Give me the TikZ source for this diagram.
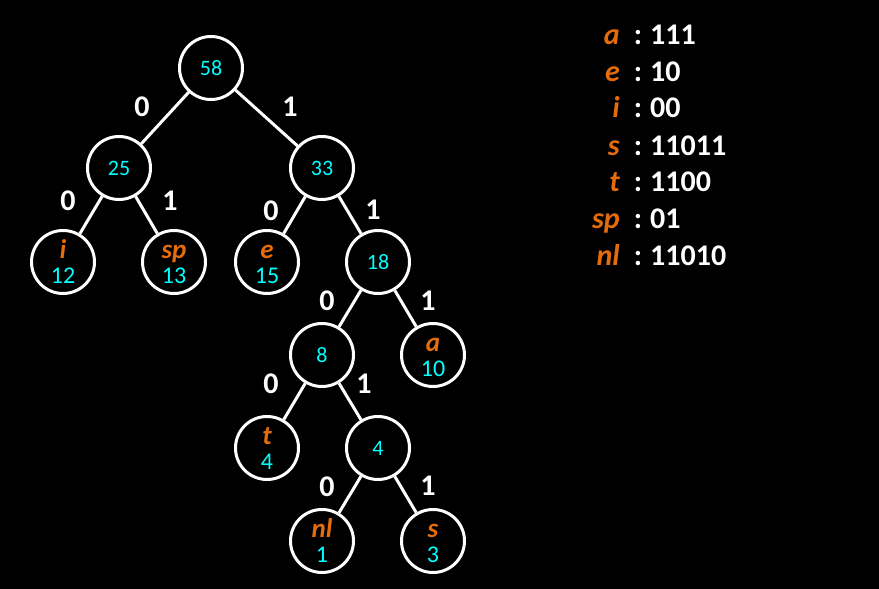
\documentclass[tikz,border=0pt]{standalone}
\usepackage{fontspec}
\setmainfont{Carlito}
\usetikzlibrary{calc}
\definecolor{huforange}{HTML}{E46C0A}
\definecolor{hufcyan}{HTML}{00FFFF}
\tikzset{
  nd/.style={circle,draw=white,line width=3pt,minimum size=63pt,inner sep=0pt,fill=black},
  num/.style={text=hufcyan,font=\fontsize{22}{22}\selectfont,inner sep=0pt},
  lnum/.style={text=hufcyan,font=\fontsize{24}{24}\selectfont,inner sep=0pt,anchor=base},
  lett/.style={text=huforange,font=\fontsize{27}{27}\selectfont\bfseries\itshape,inner sep=0pt,anchor=base,text depth=0pt},
  elab/.style={text=white,font=\fontsize{30}{30}\selectfont\bfseries,inner sep=0pt},
  edge/.style={draw=white,line width=3pt},
  code/.style={text=white,font=\fontsize{30}{30}\selectfont\bfseries,inner sep=0pt,anchor=base west},
  clet/.style={text=huforange,font=\fontsize{30}{30}\selectfont\bfseries\itshape,inner sep=0pt,anchor=base east},
  ccol/.style={text=white,font=\fontsize{30}{30}\selectfont\bfseries,inner sep=0pt,anchor=base},
}
\begin{document}
\begin{tikzpicture}[x=1pt,y=-1pt]
\fill[black] (0,0) rectangle (879,589);
\useasboundingbox (0,0) rectangle (879,589);
% nodes
\node[nd] (n58) at (211,68) {};
\node[nd] (n25) at (119,168) {};
\node[nd] (n33) at (322,168) {};
\node[nd] (ni) at (63,262) {};
\node[nd] (nsp) at (174,262) {};
\node[nd] (ne) at (267,262) {};
\node[nd] (n18) at (378,262) {};
\node[nd] (n8) at (322,355) {};
\node[nd] (na) at (433,355) {};
\node[nd] (nt) at (267,448) {};
\node[nd] (n4) at (378,448) {};
\node[nd] (nnl) at (322,541) {};
\node[nd] (ns) at (433,541) {};
% edges
\draw[edge] (n58) -- (n25);
\draw[edge] (n58) -- (n33);
\draw[edge] (n25) -- (ni);
\draw[edge] (n25) -- (nsp);
\draw[edge] (n33) -- (ne);
\draw[edge] (n33) -- (n18);
\draw[edge] (n18) -- (n8);
\draw[edge] (n18) -- (na);
\draw[edge] (n8) -- (nt);
\draw[edge] (n8) -- (n4);
\draw[edge] (n4) -- (nnl);
\draw[edge] (n4) -- (ns);
% internal values
\node[num] (v58) at (n58) {58};
\node[num] (v25) at (n25) {25};
\node[num] (v33) at (n33) {33};
\node[num] (v18) at (n18) {18};
\node[num] (v8) at (n8) {8};
\node[num] (v4) at (n4) {4};
% leaves
\node[lett] (li) at ($(ni)+(0,-4)$) {i};
\node[lnum] (wi) at ($(ni)+(0,21)$) {12};
\node[lett] (lsp) at ($(nsp)+(0,-4)$) {sp};
\node[lnum] (wsp) at ($(nsp)+(0,21)$) {13};
\node[lett] (le) at ($(ne)+(0,-4)$) {e};
\node[lnum] (we) at ($(ne)+(0,21)$) {15};
\node[lett] (la) at ($(na)+(0,-4)$) {a};
\node[lnum] (wa) at ($(na)+(0,21)$) {10};
\node[lett] (lt) at ($(nt)+(0,-4)$) {t};
\node[lnum] (wt) at ($(nt)+(0,21)$) {4};
\node[lett] (lnl) at ($(nnl)+(0,-4)$) {nl};
\node[lnum] (wnl) at ($(nnl)+(0,21)$) {1};
\node[lett] (ls) at ($(ns)+(0,-4)$) {s};
\node[lnum] (ws) at ($(ns)+(0,21)$) {3};
% edge labels
\node[elab] (e1) at (142,107) {0};
\node[elab] (e2) at (290,107) {1};
\node[elab] (e3) at (68,201) {0};
\node[elab] (e4) at (170,201) {1};
\node[elab] (e5) at (271,211) {0};
\node[elab] (e6) at (373,210) {1};
\node[elab] (e7) at (327,301) {0};
\node[elab] (e8) at (428,301) {1};
\node[elab] (e9) at (271,384) {0};
\node[elab] (e10) at (364,384) {1};
\node[elab] (e11) at (327,487) {0};
\node[elab] (e12) at (428,486) {1};
% code table
\foreach \l/\c/\y [count=\k] in {a/111/45, e/10/81, i/00/117, s/11011/155, t/1100/191, sp/01/228, nl/11010/265}{
  \node[clet] (cl\k) at (620,\y) {\l};
  \node[ccol] (cc\k) at (638,\y) {:};
  \node[code] (cv\k) at (650,\y) {\c};
}
\end{tikzpicture}
\end{document}
